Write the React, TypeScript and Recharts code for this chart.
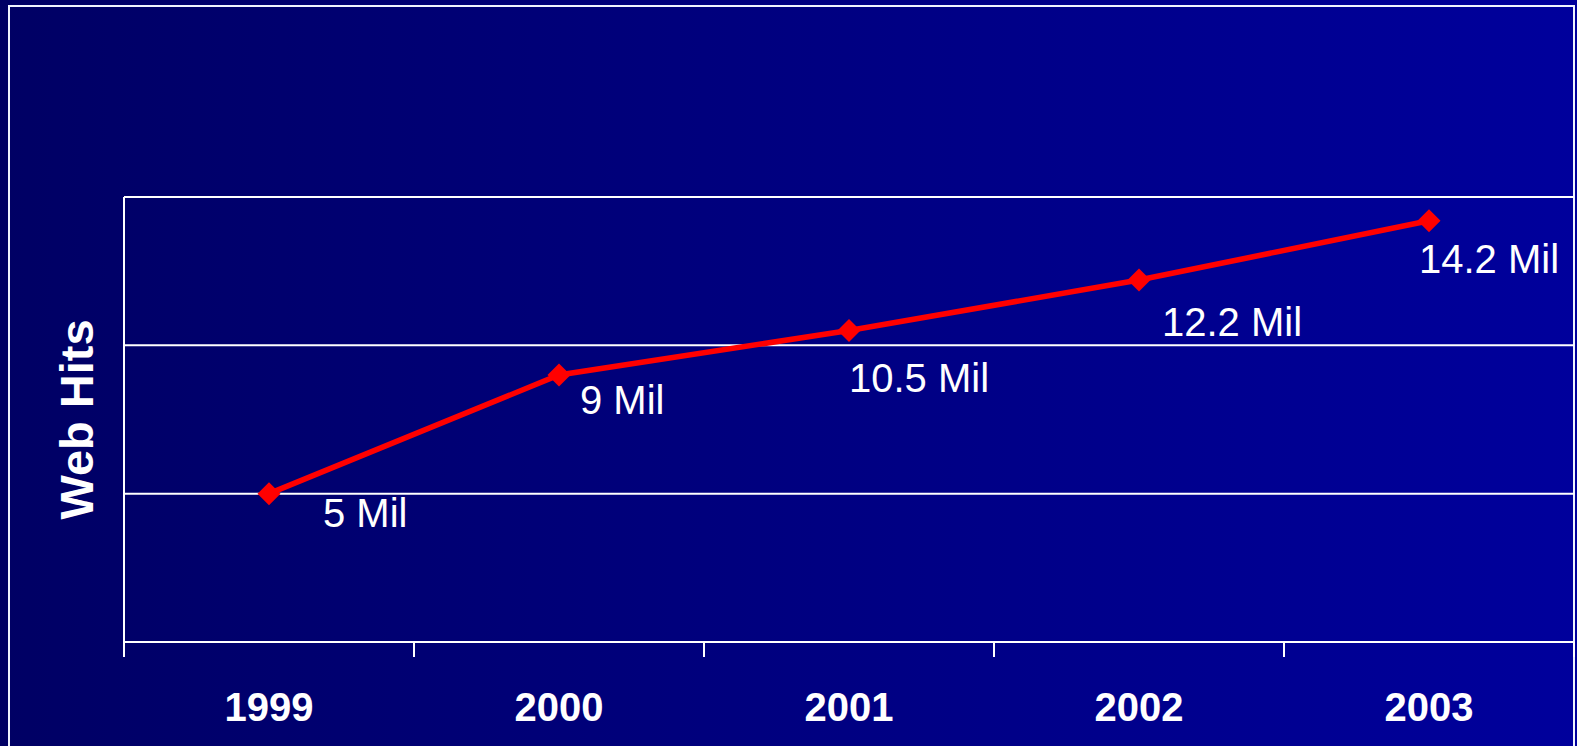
import React from 'react';
import { LineChart, Line, XAxis, YAxis, CartesianGrid, LabelList } from 'recharts';

const years = ['1999', '2000', '2001', '2002', '2003'];
const webHits = [5, 9, 10.5, 12.2, 14.2];
const hitLabels = ['5 Mil', '9 Mil', '10.5 Mil', '12.2 Mil', '14.2 Mil'];
const yTicks = [0, 5, 10, 15];

// hand-placed label nudges (text start dx, baseline dy) as in the original slide
const LABEL_SHIFT: [number, number][] = [
  [54, 33],
  [21, 39],
  [0, 61],
  [23, 56],
  [-10, 52],
];

const W = 1577;
const H = 746;
const MARGIN = { top: 197, right: 3, bottom: 0, left: 123 };
const FONT = '"Liberation Sans", Arial, sans-serif';

const data = years.map((year, i) => ({ year, hits: webHits[i], label: hitLabels[i] }));

const bandWidth = (W - MARGIN.left - 1 - MARGIN.right) / years.length;

const YearTick = (props: any) => {
  const { x, y, payload, index } = props;
  const half = bandWidth / 2;
  return (
    <g>
      <line x1={x - half} y1={y} x2={x - half} y2={y + 15} stroke="#ffffff" strokeWidth={2} />
      {index === years.length - 1 && (
        <line x1={x + half} y1={y} x2={x + half} y2={y + 15} stroke="#ffffff" strokeWidth={2} />
      )}
      <text
        x={x}
        y={y + 79}
        textAnchor="middle"
        fill="#ffffff"
        fontFamily={FONT}
        fontWeight="bold"
        fontSize={40}
      >
        {payload.value}
      </text>
    </g>
  );
};

// y ticks carry no labels on the slide, only grid rows
const NoTick = () => <g />;

const Diamond = (props: any) => {
  const { cx, cy, index } = props;
  const r = 11.5;
  return (
    <polygon
      key={`d-${index}`}
      points={`${cx},${cy - r} ${cx + r},${cy} ${cx},${cy + r} ${cx - r},${cy}`}
      fill="#ff0000"
    />
  );
};

const HitLabel = (props: any) => {
  const { x, y, index, value } = props;
  const [dx, dy] = LABEL_SHIFT[index] || [0, 40];
  return (
    <text x={x + dx} y={y + dy} fill="#ffffff" fontFamily={FONT} fontSize={40}>
      {value}
    </text>
  );
};

const AxisTitle = (props: any) => {
  const vb = props.viewBox || { x: 123, width: 1, y: 197, height: 445 };
  const cx = vb.x + vb.width - 31;
  const cy = vb.y + vb.height / 2;
  return (
    <text
      transform={`translate(${cx}, ${cy}) rotate(-90)`}
      textAnchor="middle"
      fill="#ffffff"
      fontFamily={FONT}
      fontWeight="bold"
      fontSize={47}
    >
      Web Hits
    </text>
  );
};

export default function App() {
  return (
    <div
      style={{
        position: 'absolute',
        left: 0,
        top: 0,
        width: W,
        height: H,
        overflow: 'hidden',
        background: 'linear-gradient(to right, #000064, #00009c)',
      }}
    >
      <div
        style={{
          position: 'absolute',
          left: 8,
          top: 5,
          width: 1567,
          height: 800,
          boxSizing: 'border-box',
          border: '2px solid #f0f4ff',
        }}
      />
      <div style={{ position: 'absolute', left: 0, top: 0 }}>
        <LineChart width={W} height={H} data={data} margin={MARGIN}>
          <CartesianGrid vertical={false} stroke="#ffffff" strokeWidth={2} />
          <XAxis
            dataKey="year"
            scale="band"
            height={104}
            axisLine={{ stroke: '#ffffff', strokeWidth: 2 }}
            tickLine={false}
            tickSize={0}
            tickMargin={0}
            tick={<YearTick />}
            interval={0}
          />
          <YAxis
            width={1}
            type="number"
            domain={[0, 15]}
            ticks={yTicks}
            interval={0}
            tick={<NoTick />}
            tickLine={false}
            axisLine={{ stroke: '#ffffff', strokeWidth: 2 }}
            label={{ content: <AxisTitle /> }}
          />
          <Line
            type="linear"
            dataKey="hits"
            stroke="#ff0000"
            strokeWidth={5.5}
            dot={Diamond}
            activeDot={false}
            isAnimationActive={false}
          >
            <LabelList dataKey="label" content={<HitLabel />} />
          </Line>
        </LineChart>
      </div>
    </div>
  );
}
